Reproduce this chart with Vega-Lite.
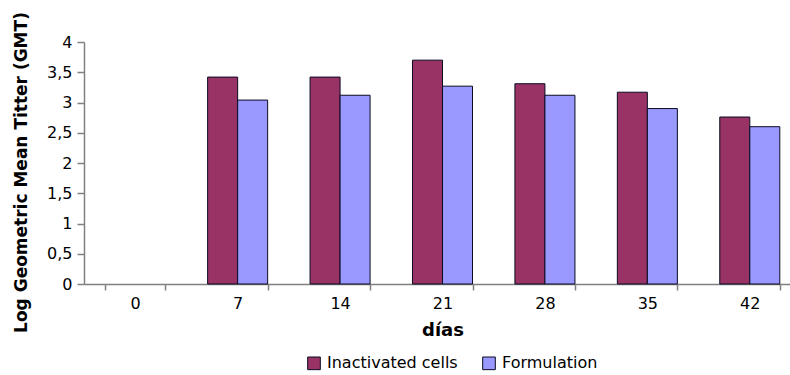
{
  "$schema": "https://vega.github.io/schema/vega-lite/v6.json",
  "width": 717,
  "height": 242,
  "autosize": "none",
  "padding": {"left": 84, "top": 42, "right": 0, "bottom": 91},
  "background": "white",
  "data": {
    "values": [
      {"day": "7", "series": "Inactivated cells", "gmt": 3.42},
      {"day": "7", "series": "Formulation", "gmt": 3.04},
      {"day": "14", "series": "Inactivated cells", "gmt": 3.42},
      {"day": "14", "series": "Formulation", "gmt": 3.12},
      {"day": "21", "series": "Inactivated cells", "gmt": 3.70},
      {"day": "21", "series": "Formulation", "gmt": 3.27},
      {"day": "28", "series": "Inactivated cells", "gmt": 3.31},
      {"day": "28", "series": "Formulation", "gmt": 3.12},
      {"day": "35", "series": "Inactivated cells", "gmt": 3.17},
      {"day": "35", "series": "Formulation", "gmt": 2.90},
      {"day": "42", "series": "Inactivated cells", "gmt": 2.76},
      {"day": "42", "series": "Formulation", "gmt": 2.60}
    ]
  },
  "mark": {"type": "bar", "stroke": "#0a0a22", "strokeWidth": 1},
  "encoding": {
    "x": {
      "field": "day",
      "type": "ordinal",
      "scale": {"domain": ["0", "7", "14", "21", "28", "35", "42"], "paddingInner": 0.414, "paddingOuter": 0.207},
      "axis": {
        "title": "días",
        "labelAngle": 0,
        "tickBand": "extent",
        "tickSize": 6,
        "labelPadding": 5,
        "titlePadding": 10,
        "titleFontSize": 18
      }
    },
    "xOffset": {
      "field": "series",
      "type": "nominal",
      "scale": {"domain": ["Inactivated cells", "Formulation"], "paddingInner": 0, "paddingOuter": 0}
    },
    "y": {
      "field": "gmt",
      "type": "quantitative",
      "scale": {"domain": [0, 4], "nice": false},
      "axis": {
        "title": "Log Geometric Mean Titter (GMT)",
        "values": [0, 0.5, 1, 1.5, 2, 2.5, 3, 3.5, 4],
        "labelExpr": "replace(format(datum.value, '~g'), '.', ',')",
        "grid": false,
        "tickSize": 7,
        "labelPadding": 5,
        "titleX": -63,
        "titleY": 130,
        "titleAngle": -90,
        "titleAlign": "center",
        "titleBaseline": "middle",
        "titleFontSize": 17
      }
    },
    "color": {
      "field": "series",
      "type": "nominal",
      "scale": {"domain": ["Inactivated cells", "Formulation"], "range": ["#993366", "#9999FF"]},
      "legend": {
        "title": null,
        "orient": "none",
        "direction": "horizontal",
        "legendX": 222,
        "legendY": 313,
        "symbolType": "square",
        "symbolSize": 160,
        "symbolStrokeColor": "#0a0a22",
        "symbolStrokeWidth": 1,
        "symbolOpacity": 1,
        "labelFontSize": 16,
        "labelOffset": 5,
        "columnPadding": 22
      }
    }
  },
  "config": {
    "view": {"stroke": null},
    "font": "DejaVu Sans",
    "axis": {
      "labelFont": "DejaVu Sans",
      "labelFontSize": 16,
      "labelColor": "#000000",
      "titleFont": "DejaVu Sans",
      "titleFontWeight": "bold",
      "titleColor": "#000000",
      "domainColor": "#808080",
      "tickColor": "#808080",
      "domainWidth": 1.5,
      "tickWidth": 1.5,
      "grid": false
    },
    "legend": {
      "labelFont": "DejaVu Sans",
      "labelColor": "#000000"
    }
  }
}
